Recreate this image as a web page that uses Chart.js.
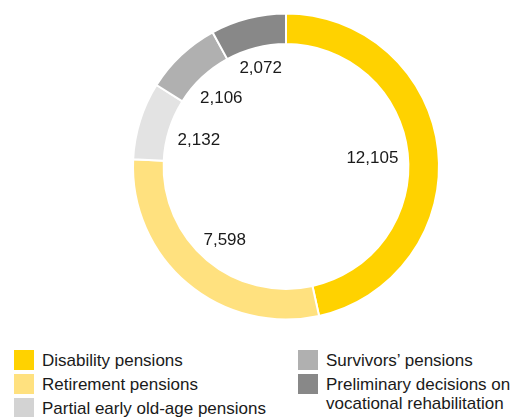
<!DOCTYPE html>
<html>
<head>
<meta charset="utf-8">
<script src="https://cdn.jsdelivr.net/npm/chart.js@4/dist/chart.umd.min.js"></script>
<style>
  html, body { margin: 0; padding: 0; background: #fff; }
  body { width: 511px; height: 417px; position: relative; overflow: hidden;
         font-family: "Liberation Sans", Arial, sans-serif; color: #1a1a1a; }
  #wrap { position: absolute; left: 0; top: 0; width: 511px; height: 340px; }
  .legend-item { position: absolute; display: flex; align-items: flex-start; font-size: 17px; line-height: 19px; }
  .legend-item .box { width: 20px; height: 20px; flex: none; margin-right: 8px; }
  .legend-item .txt { padding-top: 1px; white-space: pre; }
</style>
</head>
<body>
<div id="wrap"><canvas id="canvas"></canvas></div>
<div id="legend"></div>
<script>
// data
var categories = [
  'Disability pensions',
  'Retirement pensions',
  'Partial early old-age pensions',
  'Survivors\u2019 pensions',
  'Preliminary decisions on\nvocational rehabilitation'
];
var values = [12105, 7598, 2132, 2106, 2072];
var colors = ['#FFD200', '#FFE17F', '#E3E3E3', '#B0B0B0', '#888888'];
// legend swatches are a touch darker for the light grey one
var legendColors = ['#FFD200', '#FFE17F', '#D3D3D3', '#B0B0B0', '#888888'];

// legend slots: column-first, two columns
var legendSlots = [
  { left: 14, top: 350 },
  { left: 14, top: 374 },
  { left: 14, top: 398 },
  { left: 298, top: 350 },
  { left: 298, top: 374 }
];

// draws the value labels just inside the ring
var innerLabels = {
  id: 'innerLabels',
  afterDatasetsDraw: function (chart) {
    var ctx = chart.ctx;
    var meta = chart.getDatasetMeta(0);
    ctx.save();
    ctx.font = '17px "Liberation Sans", Arial, sans-serif';
    ctx.fillStyle = '#1a1a1a';
    ctx.textAlign = 'center';
    ctx.textBaseline = 'middle';
    meta.data.forEach(function (arc, i) {
      var p = arc.getProps(['x', 'y', 'startAngle', 'endAngle', 'innerRadius'], true);
      var mid = (p.startAngle + p.endAngle) / 2;
      var cx = Math.cos(mid), cy = Math.sin(mid);
      var text = chart.data.datasets[0].data[i].toLocaleString('en-US');
      var w = ctx.measureText(text).width;
      var h = 12;
      var extent = Math.abs(cx) * w / 2 + Math.abs(cy) * h / 2;
      var r = p.innerRadius - 9 - extent;
      ctx.fillText(text, p.x + cx * r, p.y + cy * r + 1);
    });
    ctx.restore();
  }
};

var chart = new Chart(document.getElementById('canvas').getContext('2d'), {
  type: 'doughnut',
  data: {
    labels: categories,
    datasets: [{
      data: values,
      backgroundColor: colors,
      borderColor: '#ffffff',
      borderWidth: 2,
      hoverOffset: 0
    }]
  },
  options: {
    responsive: true,
    maintainAspectRatio: false,
    animation: false,
    cutout: '80%',
    layout: { padding: { left: 132, right: 71, top: 12, bottom: 19 } },
    plugins: {
      legend: { display: false },
      tooltip: { enabled: false }
    }
  },
  plugins: [innerLabels]
});

// html legend built from the chart labels
var legendEl = document.getElementById('legend');
chart.data.labels.forEach(function (label, i) {
  var item = document.createElement('div');
  item.className = 'legend-item';
  item.style.left = legendSlots[i].left + 'px';
  item.style.top = legendSlots[i].top + 'px';
  var box = document.createElement('span');
  box.className = 'box';
  box.style.background = legendColors[i];
  var txt = document.createElement('span');
  txt.className = 'txt';
  txt.textContent = label;
  item.appendChild(box);
  item.appendChild(txt);
  legendEl.appendChild(item);
});
</script>
</body>
</html>
